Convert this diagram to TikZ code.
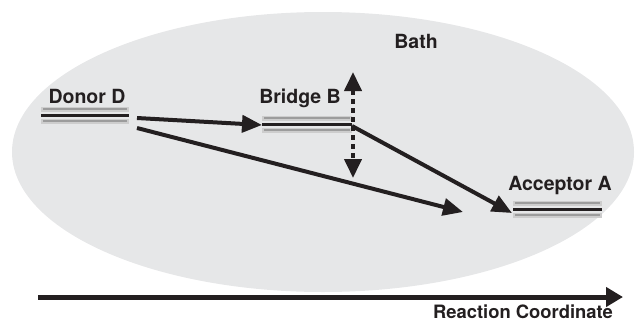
\documentclass[tikz,border=0pt]{standalone}
\usepackage{fontspec}
\setmainfont{TeX Gyre Heros}
\usetikzlibrary{arrows.meta}
\definecolor{bathgray}{HTML}{E6E7E8}
\definecolor{ink}{HTML}{231F20}
\definecolor{lvlgray}{HTML}{9C9C9C}
\begin{document}
\begin{tikzpicture}[x=1pt,y=-1pt,
  lbl/.style={font=\bfseries\fontsize{19.5}{22}\selectfont, text=ink, anchor=base, inner sep=0pt},
  axislbl/.style={font=\bfseries\fontsize{18.4}{21}\selectfont, text=ink, anchor=base, inner sep=0pt},
  glow/.style={line width=5pt, draw=lvlgray!50},
  glowcore/.style={line width=2.4pt, draw=lvlgray},
  levelline/.style={line width=3pt, draw=ink},
  arr/.style={line width=4pt, draw=ink, -{Triangle[length=20pt,width=17pt]}},
  dblarr/.style={line width=4pt, draw=ink, dash pattern=on 5pt off 4pt, {Triangle[length=19pt,width=17pt]}-{Triangle[length=19pt,width=17pt]}},
  axis/.style={line width=5pt, draw=ink, -{Triangle[length=17pt,width=19pt]}}]
\useasboundingbox (0,0) rectangle (639,324);
\fill[bathgray] (323,152) ellipse [x radius=311pt, y radius=140pt];
% energy levels
\foreach \n/\xa/\xb/\y in {D/41/129/115, B/262/352/124, A/513/602/209} {
  \draw[glow] (\xa,\y-6) -- (\xb,\y-6);
  \draw[glow] (\xa,\y+6) -- (\xb,\y+6);
  \draw[glowcore] (\xa+2,\y-6) -- (\xb-2,\y-6);
  \draw[glowcore] (\xa+2,\y+6) -- (\xb-2,\y+6);
  \draw[levelline] (\xa,\y) coordinate (\n l) -- (\xb,\y) coordinate (\n r);
}
% labels
\node[lbl] (bath) at (416,48) {Bath};
\node[lbl] (donor) at (87,103) {Donor D};
\node[lbl] (bridge) at (300,103) {Bridge B};
\node[lbl] (acceptor) at (560,190) {Acceptor A};
\node[axislbl] (rc) at (523,318) {Reaction Coordinate};
% connectors
\coordinate (d1) at (137,118);
\coordinate (d2) at (137,128);
\coordinate (bin) at (262,125);
\coordinate (bout) at (352,126);
\coordinate (ain) at (512,213);
\coordinate (free) at (463,212);
\coordinate (vtop) at (353,72);
\coordinate (vbot) at (353,178);
\coordinate (ax0) at (38,297);
\coordinate (ax1) at (623,297);
\draw[arr] (d1) -- (bin);
\draw[arr] (d2) -- (free);
\draw[arr] (bout) -- (ain);
\draw[dblarr] (vtop) -- (vbot);
\draw[axis] (ax0) -- (ax1);
\end{tikzpicture}
\end{document}
